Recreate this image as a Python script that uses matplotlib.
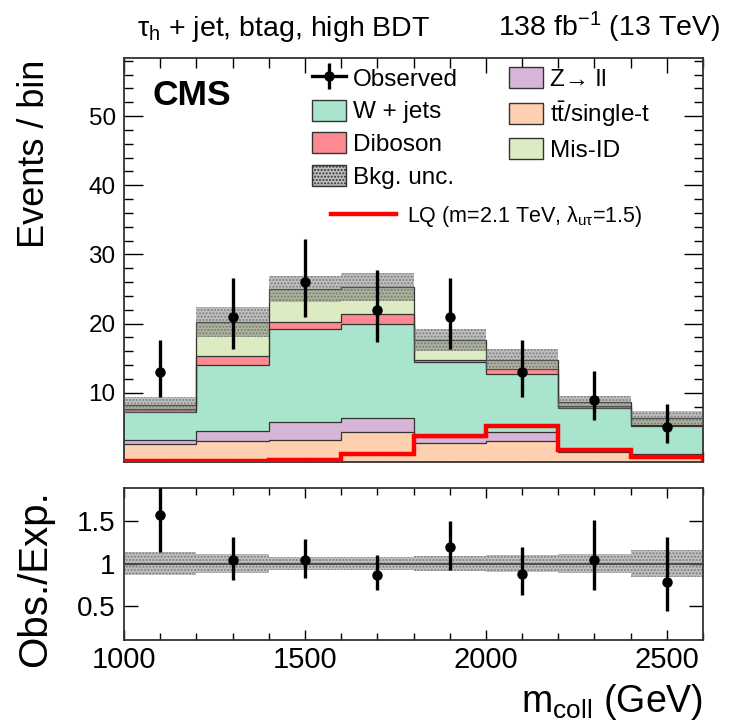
import numpy as np
import matplotlib
matplotlib.use("Agg")
import matplotlib.pyplot as plt
from matplotlib.patches import Patch
from matplotlib.lines import Line2D
from matplotlib.legend_handler import HandlerTuple

plt.rcParams['font.family'] = ['Liberation Sans', 'DejaVu Sans']
plt.rcParams['mathtext.fontset'] = 'custom'
plt.rcParams['mathtext.rm'] = 'Liberation Sans'
plt.rcParams['mathtext.it'] = 'Liberation Sans:italic'
plt.rcParams['mathtext.bf'] = 'Liberation Sans:bold'

# ---------------- data ----------------
edges = [1000, 1200, 1400, 1600, 1800, 2000, 2200, 2400, 2600]
ttbar = [2.6, 3.0, 3.2, 4.4, 2.7, 3.1, 1.5, 0.8]
zll = [0.6, 1.45, 2.55, 1.9, 0.9, 1.2, 0.2, 0.4]
wjets = [4.05, 9.5, 13.5, 13.6, 10.9, 8.35, 6.1, 4.0]
diboson = [0.4, 1.35, 1.05, 1.5, 0.2, 0.75, 0.3, 0.2]
misid = [0.6, 4.9, 4.7, 3.9, 2.95, 1.4, 0.55, 1.0]
bkg_unc = [1.1, 2.2, 1.9, 2.0, 1.6, 1.55, 0.95, 1.0]
observed = [13, 21, 26, 22, 21, 13, 9, 5]
obs_err_up = [4.7, 5.6, 6.2, 5.8, 5.6, 4.7, 4.1, 3.4]
obs_err_dn = [3.6, 4.6, 5.1, 4.7, 4.6, 3.6, 3.0, 2.2]
lq_signal = [0.1, 0.15, 0.35, 1.2, 3.8, 5.2, 1.7, 0.7]

# stack order bottom -> top
comp_names = ['ttbar', 'zll', 'wjets', 'diboson', 'misid']
comp_vals = [ttbar, zll, wjets, diboson, misid]
comp_colors = ['#fed0b0', '#d6b5d6', '#a8e5cc', '#fd8a92', '#dcebc2']

edges_a = np.array(edges, dtype=float)
centers = 0.5 * (edges_a[1:] + edges_a[:-1])
cum = np.cumsum(np.array(comp_vals, dtype=float), axis=0)
total = cum[-1]
unc = np.array(bkg_unc)
obs = np.array(observed, dtype=float)

W, H = 730, 721
fig = plt.figure(figsize=(W / 100, H / 100), dpi=100)

def fx(px):
    return px / W

def fy(py):
    return 1 - py / H

L, R = 124, 703
ax = fig.add_axes([fx(L), fy(462), fx(R) - fx(L), fy(58) - fy(462)])
axr = fig.add_axes([fx(L), fy(640), fx(R) - fx(L), fy(488) - fy(640)])

edge_c = '#333333'
# stacked histograms, drawn from top cumulative down (ROOT style)
for i in reversed(range(len(comp_vals))):
    ax.stairs(cum[i], edges_a, baseline=0, fill=True, facecolor=comp_colors[i],
              edgecolor='none', zorder=2)
for i in reversed(range(len(comp_vals))):
    ax.stairs(cum[i], edges_a, baseline=None, fill=False, color=edge_c, lw=0.9, zorder=3)

band_kw = dict(facecolor=(0.45, 0.45, 0.45, 0.45), edgecolor=(0.35, 0.35, 0.35, 0.6),
               hatch='.....', lw=0)
ax.stairs(total + unc, edges_a, baseline=total - unc, fill=True, zorder=4, **band_kw)

ax.stairs(lq_signal, edges_a, baseline=0, fill=False, color='#ff0000', lw=3.2, zorder=5)

ax.errorbar(centers, obs, yerr=[obs_err_dn, obs_err_up], fmt='o', color='black',
            ms=6.5, lw=2.4, capsize=0, zorder=6)

ax.set_xlim(1000, 2600)
ax.set_ylim(0, 58.4)
ax.set_xticks([1000, 1500, 2000, 2500])
ax.set_xticks(np.arange(1000, 2601, 100), minor=True)
ax.set_yticks([10, 20, 30, 40, 50])
ax.set_yticks(np.arange(2, 58.4, 2), minor=True)
ax.tick_params(axis='both', which='both', direction='in', top=True, right=True)
ax.tick_params(axis='x', which='major', length=11, width=1.0, labelbottom=False)
ax.tick_params(axis='x', which='minor', length=7, width=1.0)
ax.tick_params(axis='y', which='major', length=14, width=1.0, labelsize=17.5, pad=6)
ax.tick_params(axis='y', which='minor', length=6.5, width=1.0)
for s in ax.spines.values():
    s.set_linewidth(1.3)
    s.set_color('#333333')

# ratio panel
rel = unc / total
axr.stairs(1 + rel, edges_a, baseline=1 - rel, fill=True, zorder=2, **band_kw)
axr.axhline(1, color='#444444', lw=1.3, zorder=3)
ratio = obs / total
axr.errorbar(centers, ratio, yerr=[np.array(obs_err_dn) / total, np.array(obs_err_up) / total],
             fmt='o', color='black', ms=6.5, lw=2.4, capsize=0, zorder=5, clip_on=True)
axr.set_xlim(1000, 2600)
axr.set_ylim(0.1, 1.89)
axr.set_xticks([1000, 1500, 2000, 2500])
axr.set_xticks(np.arange(1000, 2601, 100), minor=True)
axr.set_yticks([0.5, 1, 1.5])
axr.set_yticklabels(['0.5', '1', '1.5'])
axr.tick_params(axis='both', which='both', direction='in', top=True, right=True)
axr.tick_params(axis='x', which='major', length=7, width=1.0, labelsize=21, pad=4)
axr.tick_params(axis='x', which='minor', length=5, width=1.0)
axr.tick_params(axis='y', which='major', length=10, width=1.0, labelsize=20, pad=6)
for s in axr.spines.values():
    s.set_linewidth(1.3)
    s.set_color('#333333')

# texts
fig.text(fx(35), fy(60), 'Events / bin', rotation=90, ha='center', va='top', fontsize=26)
fig.text(fx(35), fy(490), 'Obs./Exp.', rotation=90, ha='center', va='top', fontsize=29)
fig.text(fx(703), fy(712), r'm$_{\mathrm{coll}}$ (GeV)', ha='right', va='baseline', fontsize=27)
fig.text(fx(137), fy(36), r'τ$_{\mathrm{h}}$ + jet, btag, high BDT', ha='left', va='baseline',
         fontsize=20.5)
fig.text(fx(720), fy(36), r'138 fb$^{\mathrm{-1}}$ (13 TeV)', ha='right', va='baseline',
         fontsize=20.5)
fig.text(fx(152), fy(79), 'CMS', ha='left', va='top', fontsize=25.5, fontweight='bold')

# legends
obs_handle = (Line2D([], [], color='black', lw=2.4),
              Line2D([], [], color='black', marker='|', ms=19, mew=2.4, ls='none'),
              Line2D([], [], color='black', marker='o', ms=6.5, ls='none'))
box = dict(edgecolor='#333333', lw=1.0)
h_w = Patch(facecolor=comp_colors[2], **box)
h_d = Patch(facecolor=comp_colors[3], **box)
h_u = Patch(facecolor=(0.45, 0.45, 0.45, 0.45), hatch='.....', edgecolor='#333333', lw=1.0)
h_z = Patch(facecolor=comp_colors[1], **box)
h_t = Patch(facecolor=comp_colors[0], **box)
h_m = Patch(facecolor=comp_colors[4], **box)

leg_kw = dict(frameon=False, fontsize=17.5, handlelength=1.4, handleheight=0.95,
              handletextpad=0.3, labelspacing=0.36, borderpad=0, borderaxespad=0,
              loc='upper left', bbox_transform=fig.transFigure,
              handler_map={tuple: HandlerTuple(ndivide=1)})
leg1 = ax.legend([obs_handle, h_w, h_d, h_u], ['Observed', 'W + jets', 'Diboson', 'Bkg. unc.'],
                 bbox_to_anchor=(fx(312), fy(67)), **leg_kw)
ax.add_artist(leg1)
leg2 = ax.legend([h_z, h_t, h_m], ['Z→ ll', r't$\bar{\mathrm{t}}$/single-t', 'Mis-ID'],
                 bbox_to_anchor=(fx(509), fy(67)), **leg_kw)
ax.add_artist(leg2)
leg3 = ax.legend([Line2D([], [], color='#ff0000', lw=3.2)],
                 [r'LQ (m=2.1 TeV, λ$_{\mathrm{u\tau}}$=1.5)'],
                 frameon=False, fontsize=15.5, handlelength=3.0, handletextpad=0.55,
                 borderpad=0, borderaxespad=0, loc='upper left',
                 bbox_to_anchor=(fx(331), fy(204)), bbox_transform=fig.transFigure)

fig.savefig('out.png', dpi=100)
